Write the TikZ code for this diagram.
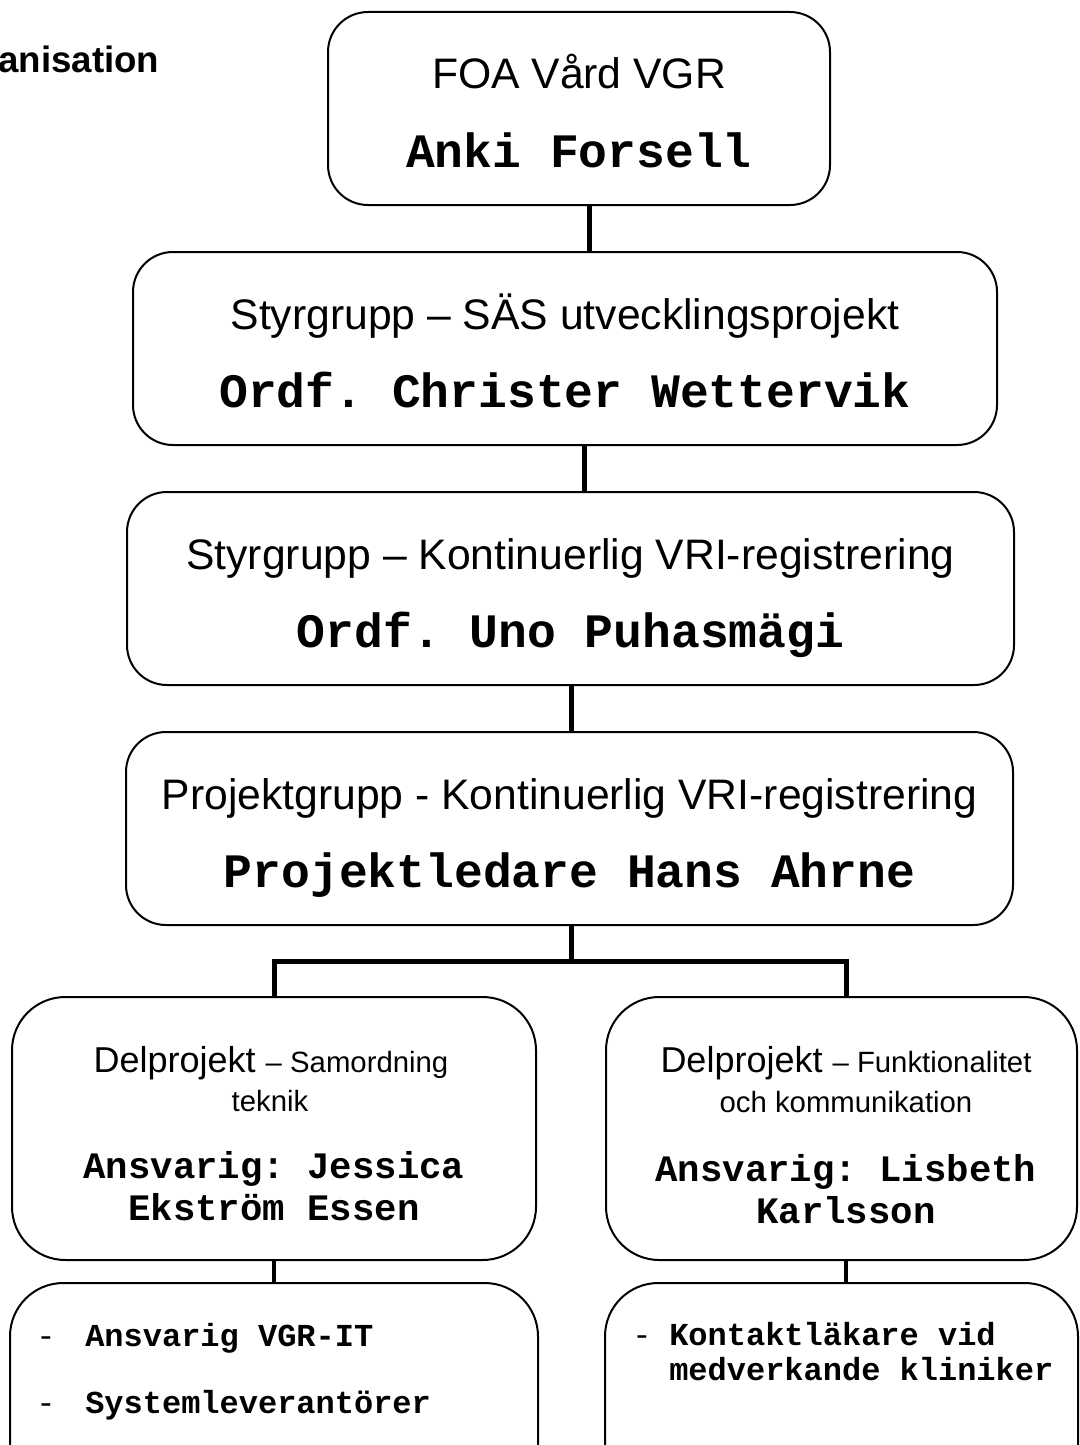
\documentclass[tikz,border=0pt]{standalone}
\usepackage{fontspec}
\setmainfont{Liberation Sans}
\setmonofont{Liberation Mono}
\usepackage{tikz}
\usetikzlibrary{positioning,calc}

\begin{document}
\begin{tikzpicture}[x=0.75pt, y=-0.75pt,
  orgbox/.style={draw=black, line width=1.5pt, fill=white, inner sep=0pt, rounded corners=30pt},
  delbox/.style={orgbox, rounded corners=40pt},
  link/.style={draw=black, line width=3.75pt},
  thinlink/.style={draw=black, line width=2.6pt},
  headfont/.style={font=\fontsize{32}{38}\selectfont, inner sep=0pt},
  namefont/.style={font=\ttfamily\bfseries\fontsize{36}{42}\selectfont, inner sep=0pt},
  delfont/.style={font=\fontsize{27}{32}\selectfont, inner sep=0pt},
  subfont/.style={font=\fontsize{22}{26}\selectfont, inner sep=0pt},
  delname/.style={font=\ttfamily\bfseries\fontsize{28}{33}\selectfont, inner sep=0pt},
  memfont/.style={font=\ttfamily\bfseries\fontsize{24}{28}\selectfont, inner sep=0pt},
  dashfont/.style={font=\ttfamily\fontsize{24}{28}\selectfont, inner sep=0pt}]
  \useasboundingbox (0,0) rectangle (1080,1445);
  \clip (0,0) rectangle (1080,1445);

  % title, cut off at the left edge
  \node[font=\bfseries\fontsize{27.5}{33}\selectfont, inner sep=0pt, anchor=base west] (title) at (-2,73) {anisation};

  % the four stacked boxes
  \foreach \nm/\xl/\xr/\yt/\headtxt/\chairtxt in {
    foa/328/830/12/{FOA Vård VGR}/{Anki Forsell},
    styr/133/997/252/{Styrgrupp – SÄS utvecklingsprojekt}/{Ordf. Christer Wettervik},
    vri/127/1014/492/{Styrgrupp – Kontinuerlig VRI-registrering}/{Ordf. Uno Puhasmägi},
    proj/126/1013/732/{Projektgrupp - Kontinuerlig VRI-registrering}/{Projektledare Hans Ahrne}}{
    \node[orgbox, minimum width={(\xr-\xl)*0.75pt}, minimum height=193*0.75pt] (\nm) at ({(\xl+\xr)/2},\yt+96.5) {};
    \node[headfont, anchor=base] (\nm-head) at ({(\xl+\xr)/2},\yt+77) {\headtxt};
    \node[namefont, anchor=base] (\nm-name) at ({(\xl+\xr)/2},\yt+155) {\chairtxt};
  }

  % sub projects
  \node[delbox, minimum width=524*0.75pt, minimum height=263*0.75pt] (delA) at (274,1128.5) {};
  \node[delbox, minimum width=471*0.75pt, minimum height=263*0.75pt] (delB) at (841.5,1128.5) {};
  \node[delfont, anchor=base] (delA-head) at (271,1072) {Delprojekt {\fontsize{22}{26}\selectfont – Samordning}};
  \node[subfont, anchor=base] (delA-sub) at (270,1111) {teknik};
  \node[delname, anchor=base] (delA-name1) at (274,1178) {Ansvarig: Jessica};
  \node[delname, anchor=base] (delA-name2) at (274,1220) {Ekström Essen};
  \node[delfont, anchor=base] (delB-head) at (846,1072) {Delprojekt {\fontsize{22}{26}\selectfont – Funktionalitet}};
  \node[subfont, anchor=base] (delB-sub) at (846,1112) {och kommunikation};
  \node[delname, anchor=base] (delB-name1) at (846,1181) {Ansvarig: Lisbeth};
  \node[delname, anchor=base] (delB-name2) at (846,1223) {Karlsson};

  % members, boxes run off the bottom
  \node[delbox, minimum width=528*0.75pt, minimum height=220*0.75pt] (memA) at (274,1393) {};
  \node[delbox, minimum width=473*0.75pt, minimum height=220*0.75pt] (memB) at (841.5,1393) {};
  \node[dashfont, anchor=base west] (memA-d1) at (36,1346) {-};
  \node[memfont, anchor=base west] (memA-i1) at (85,1346) {Ansvarig VGR-IT};
  \node[dashfont, anchor=base west] (memA-d2) at (36,1413) {-};
  \node[memfont, anchor=base west] (memA-i2) at (85,1413) {Systemleverantörer};
  \node[dashfont, anchor=base west] (memB-d1) at (632,1345) {-};
  \node[memfont, anchor=base west] (memB-i1) at (669,1345) {Kontaktläkare vid};
  \node[memfont, anchor=base west] (memB-i2) at (669,1380) {medverkande kliniker};

  % connectors
  \draw[link] (589,0 |- foa.south) -- (589,0 |- styr.north);
  \draw[link] (584,0 |- styr.south) -- (584,0 |- vri.north);
  \draw[link] (571,0 |- vri.south) -- (571,0 |- proj.north);
  \coordinate (split) at (571,961);
  \draw[link] (split |- proj.south) -- (split) -| (delA.north);
  \draw[link] (split) -| (846,0 |- delB.north);
  \draw[thinlink] (delA.south) -- (memA.north);
  \draw[thinlink] (846,0 |- delB.south) -- (846,0 |- memB.north);
\end{tikzpicture}
\end{document}
